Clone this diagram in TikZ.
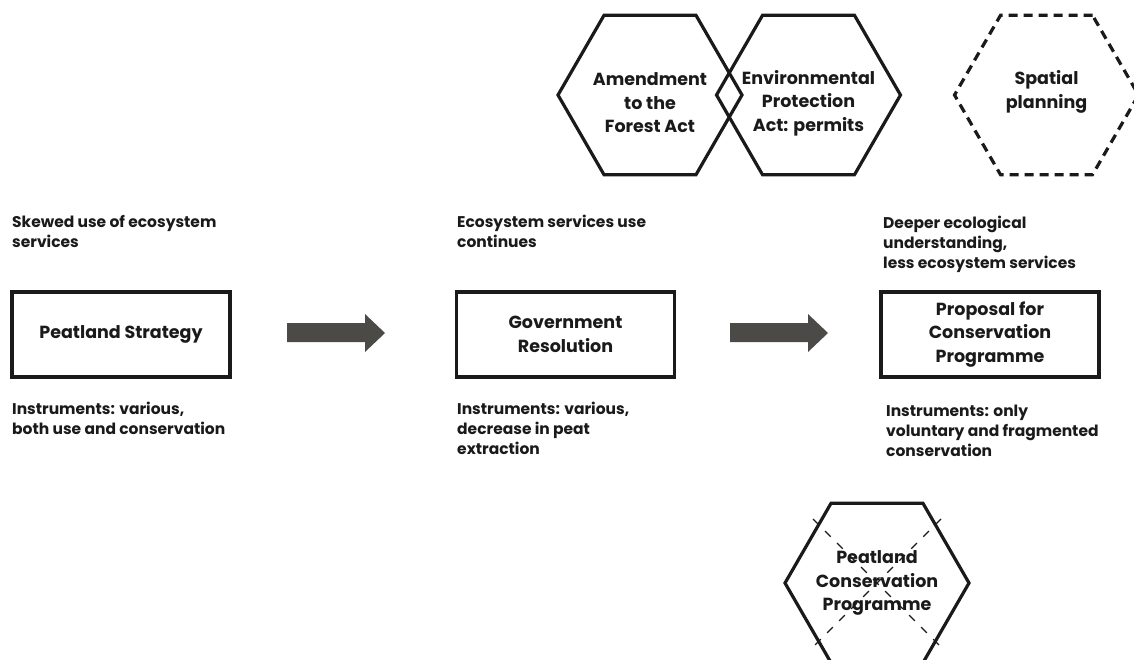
\documentclass[tikz,border=0pt]{standalone}
\usepackage{fontspec}
\setmainfont{Poppins}
\usetikzlibrary{shapes.geometric}
\definecolor{ink}{HTML}{1A1A1A}
\definecolor{arrowgray}{HTML}{4B4A47}
\begin{document}
\begin{tikzpicture}[x=1pt,y=-1pt,
  every node/.style={text=ink, font=\bfseries},
  stagebox/.style={draw=ink, line width=3.2pt, rectangle, minimum width=218pt, minimum height=85pt, inner sep=0pt, align=center, font=\bfseries\fontsize{17.5}{23.5}\selectfont},
  hex/.style={draw=ink, line width=3.2pt, regular polygon, regular polygon sides=6, minimum size=184pt, inner sep=0pt},
  hextext/.style={align=center, inner sep=0pt, font=\bfseries\fontsize{17.5}{23.5}\selectfont},
  note/.style={align=left, anchor=north west, inner sep=0pt, font=\bfseries\fontsize{15.5}{20}\selectfont},
  blockarrow/.style={fill=arrowgray}
]
\clip (0,0) rectangle (1134,659);
\fill[white] (0,0) rectangle (1134,659);

% stage boxes
\node[stagebox] (ps) at (121,334.5) {Peatland Strategy};
\node[stagebox] (gr) at (565.5,334.5) {Government\\Resolution};
\node[stagebox] (pcp) at (990,334.5) {Proposal for\\Conservation\\Programme};

% notes above
\node[note] (n1) at (12,215) {Skewed use of ecosystem\\services};
\node[note] (n2) at (457,215) {Ecosystem services use\\continues};
\node[note] (n3) at (883,216) {Deeper ecological\\understanding,\\less ecosystem services};

% notes below
\node[note] (b1) at (12,402) {Instruments: various,\\both use and conservation};
\node[note] (b2) at (457,402) {Instruments: various,\\decrease in peat\\extraction};
\node[note] (b3) at (886,405) {Instruments: only\\voluntary and fragmented\\conservation};

% block arrows
\fill[blockarrow] (287,323) -- (365,323) -- (365,314) -- (385,333) -- (365,352) -- (365,342) -- (287,342) -- cycle;
\fill[blockarrow] (730,323) -- (808,323) -- (808,314) -- (828,333) -- (808,352) -- (808,342) -- (730,342) -- cycle;

% hexagons
\node[hex] (forest) at (650,95) {};
\node[hextext] (forestt) at ([yshift=-8pt]forest.center) {Amendment\\to the\\Forest Act};
\node[hex] (env) at (808.5,95) {};
\node[hextext] (envt) at ([yshift=-8pt]env.center) {Environmental\\Protection\\Act: permits};
\node[hex, dash pattern=on 9pt off 6pt] (spatial) at (1046.5,95) {};
\node[hextext] (spatialt) at ([yshift=3pt]spatial.center) {Spatial\\planning};
\node[hex] (pcons) at (877,583) {};
\node[hextext] (pconst) at (pcons.center) {Peatland\\Conservation\\Programme};
\coordinate (x1) at ([shift={(-64,-64)}]pcons.center);
\coordinate (x2) at ([shift={(64,64)}]pcons.center);
\coordinate (x3) at ([shift={(64,-64)}]pcons.center);
\coordinate (x4) at ([shift={(-64,64)}]pcons.center);
\draw[ink, line width=1.3pt, dash pattern=on 8pt off 9pt] (x1) -- (x2);
\draw[ink, line width=1.3pt, dash pattern=on 8pt off 9pt] (x3) -- (x4);
\end{tikzpicture}
\end{document}
